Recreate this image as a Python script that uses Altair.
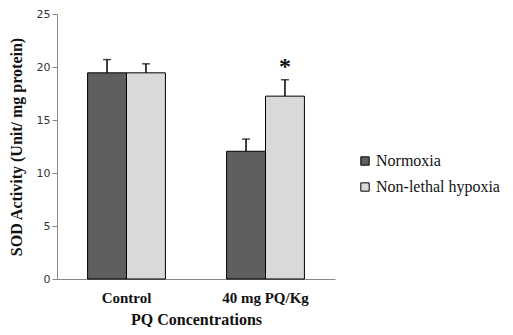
import altair as alt
import pandas as pd

groups = ["Control", "40 mg PQ/Kg"]
series = ["Normoxia", "Non-lethal hypoxia"]
normoxia = [19.45, 12.05]
normoxia_err = [1.25, 1.15]
hypoxia = [19.45, 17.25]
hypoxia_err = [0.85, 1.55]
stars = ["", "*"]
colors = ["#5f5f5f", "#d9d9d9"]

rows = []
for i, g in enumerate(groups):
    rows.append({"group": g, "series": series[0], "value": normoxia[i],
                 "upper": normoxia[i] + normoxia_err[i], "star": ""})
    rows.append({"group": g, "series": series[1], "value": hypoxia[i],
                 "upper": hypoxia[i] + hypoxia_err[i], "star": stars[i]})
df = pd.DataFrame(rows)

serif = "'Liberation Serif', 'Times New Roman', serif"
yscale = alt.Scale(domain=[0, 25], nice=False, zero=True)

x = alt.X("group:N", sort=groups,
          scale=alt.Scale(paddingInner=0.44, paddingOuter=0.22),
          axis=alt.Axis(title="PQ Concentrations", labelAngle=0,
                        labelFont=serif, labelFontSize=15, labelFontWeight="bold",
                        labelColor="#111", titleFont=serif, titleFontSize=16,
                        titleFontWeight="bold", titleColor="#111",
                        tickSize=0, labelPadding=11, titlePadding=6,
                        domainColor="#888"))
xo = alt.XOffset("series:N", sort=series)
y = alt.Y("value:Q", scale=yscale,
          axis=alt.Axis(title="SOD Activity (Unit/ mg protein)", values=[0, 5, 10, 15, 20, 25],
                        grid=False, labelFont="DejaVu Sans", labelFontSize=11,
                        labelColor="#333", tickColor="#888", domainColor="#888",
                        tickSize=5, titleFont=serif, titleFontSize=16,
                        titleFontWeight="bold", titleColor="#111", titlePadding=12))

base = alt.Chart(df)

bars = base.mark_bar(stroke="black", strokeWidth=1).encode(
    x=x, xOffset=xo, y=y,
    color=alt.Color("series:N", sort=series,
                    scale=alt.Scale(domain=series, range=colors),
                    legend=alt.Legend(title=None, orient="none", legendX=300, legendY=139,
                                      symbolType="square", symbolSize=70,
                                      symbolStrokeColor="black", symbolStrokeWidth=1,
                                      labelFont=serif, labelFontSize=16, labelColor="#111",
                                      rowPadding=10, labelOffset=3)))

err = base.mark_rule(color="black", strokeWidth=1.5).encode(
    x=alt.X("group:N", sort=groups), xOffset=xo,
    y=alt.Y("value:Q", scale=yscale), y2="upper:Q")
cap = base.mark_tick(color="black", thickness=1.5, size=8).encode(
    x=alt.X("group:N", sort=groups), xOffset=xo, y=alt.Y("upper:Q", scale=yscale))
star = base.mark_text(font=serif, fontSize=24, fontWeight="bold", dy=-1, baseline="bottom",
                      color="#111").encode(
    x=alt.X("group:N", sort=groups), xOffset=xo, y=alt.Y("upper:Q", scale=yscale),
    text="star:N")

chart = alt.layer(bars, err, cap, star).properties(
    width=278, height=265,
    autosize=alt.AutoSizeParams(type="none"),
    padding={"left": 49, "top": 6, "right": 170, "bottom": 48},
).configure_view(stroke=None)

chart.save("out.html", embed_options={"renderer": "svg", "actions": False})
